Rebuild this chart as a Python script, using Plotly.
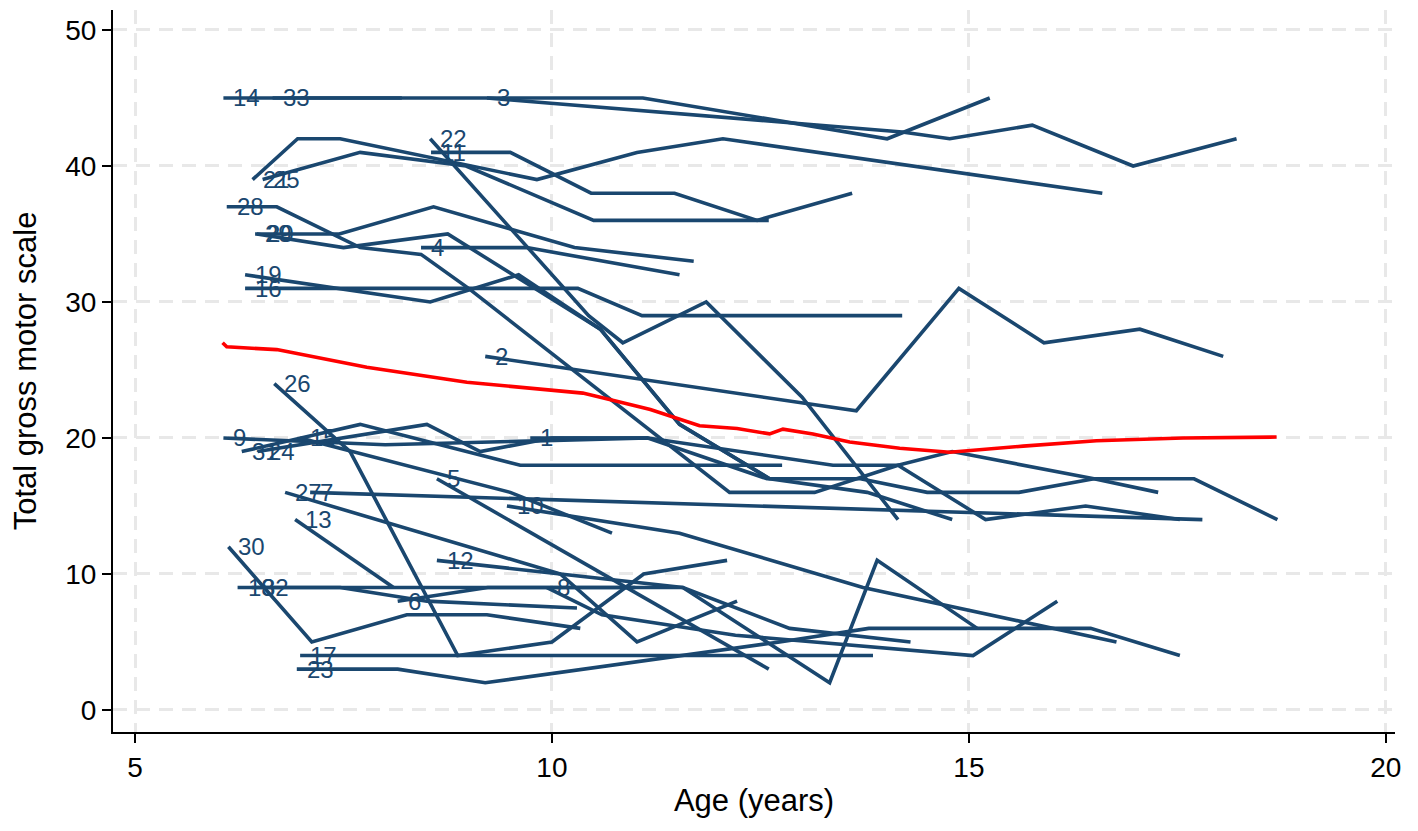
import plotly.graph_objects as go

# ---- data: age (years) and total gross motor scale per subject ----
age_01 = [9.74, 10.2, 11.15, 12.58, 13.7, 14.5, 15.6, 16.5, 17.7, 18.7]
gms_01 = [20, 20, 20, 17, 17, 16, 16, 17, 17, 14]
age_02 = [9.2, 13.65, 14.88, 15.9, 17.05, 18.05]
gms_02 = [26, 22, 31, 27, 28, 26]
age_03 = [9.22, 14.2, 14.77, 15.76, 16.97, 18.21]
gms_03 = [45, 42.5, 42, 43, 40, 42]
age_04 = [8.43, 9.7, 11.53]
gms_04 = [34, 34, 32]
age_05 = [8.62, 12.6]
gms_05 = [17, 3]
age_06 = [8.15, 9.23, 11.0]
gms_06 = [8, 9, 9]
age_07 = [7.1, 17.8]
gms_07 = [16, 14]
age_08 = [9.94, 10.6, 12.2, 15.05, 16.06]
gms_08 = [9, 7, 5.5, 4, 8]
age_09 = [6.06, 8.0, 11.15, 13.37, 14.15, 14.8, 16.5, 17.27]
gms_09 = [20, 19.5, 20, 18, 18, 19, 17, 16]
age_10 = [9.46, 11.53, 13.73, 16.77]
gms_10 = [15, 13, 9, 5]
age_11 = [8.55, 9.5, 10.47, 11.47, 12.46, 13.6]
gms_11 = [41, 41, 38, 38, 36, 38]
age_12 = [8.62, 10.1, 11.02, 12.22]
gms_12 = [11, 10, 5, 8]
age_13 = [6.92, 8.1]
gms_13 = [14, 9]
age_14 = [6.06, 11.09, 14.02, 15.25]
gms_14 = [45, 45, 42, 45]
age_15 = [6.98, 9.5, 10.72]
gms_15 = [20, 16, 13]
age_16 = [6.32, 10.31, 11.08, 14.2]
gms_16 = [31, 31, 29, 29]
age_17 = [6.98, 13.85]
gms_17 = [4, 4]
age_18 = [6.23, 11.57, 13.33, 13.9, 15.1]
gms_18 = [9, 9, 2, 11, 6]
age_19 = [6.32, 8.54, 9.6, 10.58, 11.53, 12.61, 13.78, 14.8]
gms_19 = [32, 30, 32, 28, 21, 17, 16, 14]
age_20 = [6.46, 7.5, 8.75, 10.58, 11.53, 12.61]
gms_20 = [35, 34, 35, 28, 21, 17]
age_21 = [6.41, 6.95, 7.46, 9.82, 11.02, 12.05, 16.6]
gms_21 = [39, 42, 42, 39, 41, 42, 38]
age_22 = [8.54, 10.44, 10.85, 11.85, 13.0, 14.15]
gms_22 = [42, 29, 27, 30, 23, 14]
age_23 = [6.94, 8.15, 9.2, 12.73, 13.8, 16.46, 17.53]
gms_23 = [3, 3, 2, 5, 6, 6, 4]
age_24 = [6.47, 8.5, 9.14, 10.0, 11.15]
gms_24 = [19, 21, 19, 20, 20]
age_25 = [6.53, 7.7, 8.97, 10.5, 12.6]
gms_25 = [39, 41, 40, 36, 36]
age_26 = [6.67, 7.58, 8.87, 10.0, 11.1, 12.1]
gms_26 = [24, 19, 4, 5, 10, 11]
age_27 = [6.8, 10.1, 11.57, 12.85, 14.3]
gms_27 = [16, 10, 9, 6, 5]
age_28 = [6.1, 6.7, 7.7, 8.43, 9.0, 12.13, 13.15, 14.15, 15.2, 16.4, 17.53]
gms_28 = [37, 37, 34, 33.5, 31, 16, 16, 18, 14, 15, 14]
age_29 = [6.44, 7.45, 8.58, 10.27, 11.7]
gms_29 = [35, 35, 37, 34, 33]
age_30 = [6.12, 7.12, 8.26, 9.22, 10.34]
gms_30 = [12, 5, 7, 7, 6]
age_31 = [6.28, 7.7, 9.62, 12.76]
gms_31 = [19, 21, 18, 18]
age_32 = [6.4, 7.46, 8.5, 10.3]
gms_32 = [9, 9, 8, 7.5]
age_33 = [6.65, 8.2]
gms_33 = [45, 45]

# mean trajectory (red)
mean_age = [6.05, 6.1, 6.7, 7.78, 8.98, 9.98, 10.37, 10.58, 11.18, 11.77,
            12.22, 12.61, 12.77, 13.13, 13.57, 14.17, 14.77, 15.65, 16.53,
            17.57, 18.69]
mean_gms = [27.0, 26.7, 26.5, 25.2, 24.1, 23.5, 23.3, 23.0, 22.1, 20.9,
            20.7, 20.3, 20.65, 20.3, 19.7, 19.25, 18.95, 19.4, 19.8,
            20.0, 20.07]

subject_ids = list(range(1, 34))
x_ticks = [5, 10, 15, 20]
y_ticks = [0, 10, 20, 30, 40, 50]

NAVY = "#1a476f"
FONT = "Liberation Sans, Arial, Helvetica, sans-serif"

g = globals()
fig = go.Figure()
annotations = []
for sid in subject_ids:
    ax = g["age_%02d" % sid]
    ay = g["gms_%02d" % sid]
    fig.add_trace(go.Scatter(x=ax, y=ay, mode="lines",
                             line=dict(color=NAVY, width=3.6),
                             hoverinfo="skip", showlegend=False))
    annotations.append(dict(x=ax[0], y=ay[0], xref="x", yref="y",
                            text=str(sid), showarrow=False,
                            xanchor="left", yanchor="middle", xshift=8,
                            font=dict(family=FONT, size=24, color=NAVY)))

fig.add_trace(go.Scatter(x=mean_age, y=mean_gms, mode="lines",
                         line=dict(color="#ff0000", width=3.6),
                         hoverinfo="skip", showlegend=False))

# the page body adds an 8px offset, so the figure is sized to fill the rest
fig.update_layout(
    width=1410, height=823,
    margin=dict(l=105, r=23, t=2, b=99),
    paper_bgcolor="white", plot_bgcolor="white",
    font=dict(family=FONT, color="black"),
    annotations=annotations,
    showlegend=False,
)
axis_common = dict(showline=True, linecolor="black", linewidth=2,
                   ticks="outside", ticklen=9, tickwidth=2, tickcolor="black",
                   showgrid=True, gridcolor="#e8e8e8", gridwidth=2.5,
                   griddash="14px,9px", zeroline=False, automargin=False,
                   tickfont=dict(size=28, family=FONT))
fig.update_xaxes(range=[4.736, 20.11], tickvals=x_ticks,
                 title=dict(text="Age (years)", font=dict(size=31, family=FONT), standoff=8),
                 **axis_common)
fig.update_yaxes(range=[-1.62, 51.47], tickvals=y_ticks,
                 title=dict(text="Total gross motor scale", font=dict(size=31, family=FONT), standoff=24),
                 **axis_common)

fig.write_html("out.html")
